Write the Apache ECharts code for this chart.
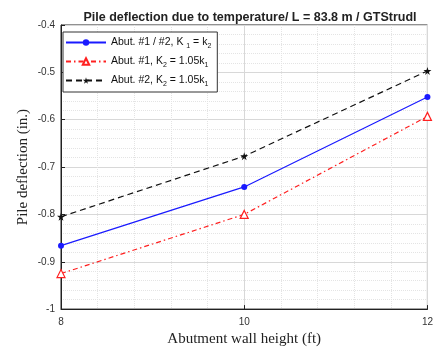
<!DOCTYPE html>
<html>
<head>
<meta charset="utf-8">
<script src="https://cdn.jsdelivr.net/npm/echarts@6/dist/echarts.min.js"></script>
<style>
  html, body { margin: 0; padding: 0; background: #fff; }
  #chart { width: 436px; height: 352px; }
</style>
</head>
<body>
<div id="chart"></div>
<script>
// wall heights (ft)
var heights = [8, 10, 12];
// pile deflection (in.)
var both = [-0.866, -0.742, -0.552];
var abut1 = [-0.925, -0.800, -0.593];
var abut2 = [-0.805, -0.677, -0.497];

var starPath = 'path://M50,0 L61,35 L98,35 L68,57 L79,91 L50,70 L21,91 L32,57 L2,35 L39,35 Z';

function pairs(ys) {
  return heights.map(function (h, i) { return [h, ys[i]]; });
}

var chart = echarts.init(document.getElementById('chart'));

var option = {
  backgroundColor: '#fff',
  animation: false,
  title: {
    text: 'Pile deflection due to temperature/ L = 83.8 m / GTStrudl',
    left: 245,
    textAlign: 'center',
    top: 6,
    textStyle: { fontFamily: 'Liberation Sans', fontSize: 12.5, fontWeight: 'bold', color: '#222' }
  },
  grid: {
    left: 61, right: 7, top: 25, bottom: 36,
    show: true, borderColor: '#222', borderWidth: 1
  },
  legend: {
    orient: 'vertical',
    left: 63, top: 32,
    itemWidth: 40, itemHeight: 8, itemGap: 6,
    padding: [5, 6, 4, 2],
    borderColor: '#333', borderWidth: 1,
    backgroundColor: '#fff',
    data: ['s1', 's2', 's3'],
    formatter: function (name) {
      if (name === 's1') return '{a|Abut. #1 / #2, K }{s|1}{a| = k}{s|2}';
      if (name === 's2') return '{a|Abut. #1, K}{s|2}{a| = 1.05k}{s|1}';
      return '{a|Abut. #2, K}{s|2}{a| = 1.05k}{s|1}';
    },
    textStyle: {
      fontFamily: 'Liberation Sans', fontSize: 10.5, color: '#111',
      rich: {
        a: { fontFamily: 'Liberation Sans', fontSize: 10.5, color: '#111' },
        s: { fontFamily: 'Liberation Sans', fontSize: 7, color: '#111', padding: [8, 0, 0, 0] }
      }
    }
  },
  xAxis: {
    type: 'value',
    min: 8, max: 12, interval: 2,
    name: 'Abutment wall height (ft)',
    nameLocation: 'middle', nameGap: 22,
    nameTextStyle: { fontFamily: 'Liberation Serif', fontSize: 15, color: '#222' },
    axisLine: { lineStyle: { color: '#222' } },
    axisTick: { inside: true, length: 4, lineStyle: { color: '#222' } },
    axisLabel: { fontFamily: 'Liberation Sans', fontSize: 10, color: '#333', margin: 8 },
    splitLine: { show: true, lineStyle: { color: '#d8d8d8' } },
    minorTick: { show: false, splitNumber: 5 },
    minorSplitLine: { show: true, lineStyle: { color: '#e4e4e4', type: 'dotted' } }
  },
  yAxis: {
    type: 'value',
    min: -1, max: -0.4, interval: 0.1,
    name: 'Pile deflection (in.)',
    nameLocation: 'middle', nameGap: 30,
    nameMoveOverlap: false,
    nameTextStyle: { fontFamily: 'Liberation Serif', fontSize: 15, color: '#222' },
    axisLine: { show: true, lineStyle: { color: '#222' } },
    axisTick: { show: true, inside: true, length: 4, lineStyle: { color: '#222' } },
    axisLabel: {
      fontFamily: 'Liberation Sans', fontSize: 10, color: '#333', margin: 6,
      formatter: function (v) { return Math.abs(v + 1) < 1e-9 ? '-1' : v.toFixed(1); }
    },
    splitLine: { show: true, lineStyle: { color: '#d8d8d8' } },
    minorTick: { show: false, splitNumber: 5 },
    minorSplitLine: { show: true, lineStyle: { color: '#e4e4e4', type: 'dotted' } }
  },
  series: [
    {
      name: 's1', type: 'line', data: pairs(both),
      color: '#1a1aff',
      lineStyle: { width: 1.2, color: '#1a1aff' },
      symbol: 'circle', symbolSize: 6,
      itemStyle: { color: '#1a1aff' }
    },
    {
      name: 's2', type: 'line', data: pairs(abut1),
      color: '#ff2020',
      lineStyle: { width: 1.2, type: [5, 3, 1.5, 3], color: '#ff2020' },
      symbol: 'triangle', symbolSize: 8,
      itemStyle: { color: '#fff', borderColor: '#ff2020', borderWidth: 1.2 }
    },
    {
      name: 's3', type: 'line', data: pairs(abut2),
      color: '#111',
      lineStyle: { width: 1.2, type: [6, 4], color: '#111' },
      symbol: starPath, symbolSize: 8,
      itemStyle: { color: '#111' }
    }
  ]
};

chart.setOption(option);
</script>
</body>
</html>
